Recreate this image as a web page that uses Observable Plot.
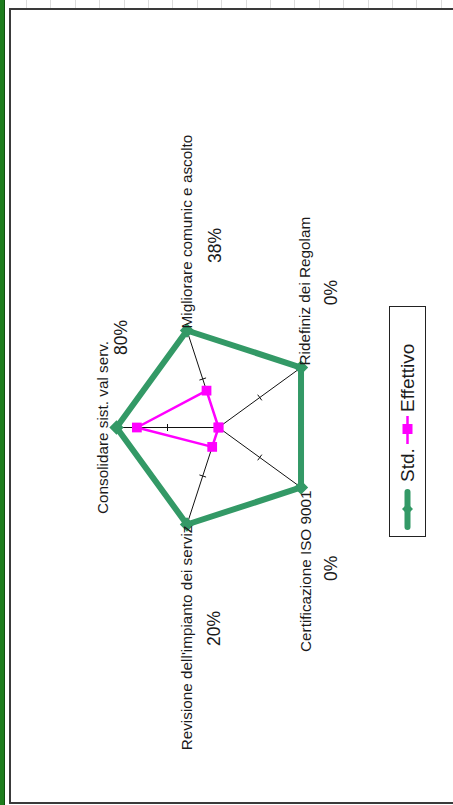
<!DOCTYPE html>
<html>
<head>
<meta charset="utf-8">
<script src="https://cdn.jsdelivr.net/npm/d3@7"></script>
<script src="https://cdn.jsdelivr.net/npm/@observablehq/plot@0.6"></script>
<style>
  html, body { margin: 0; padding: 0; background: #fff; }
  body { width: 453px; height: 805px; position: relative; overflow: hidden; font-family: "Liberation Sans", Arial, sans-serif; }
  #strip { position: absolute; left: 0; top: 0; width: 5px; height: 805px; background: #1d7d1d; border-right: 1px solid #0f4f0f; box-sizing: border-box; }
  #sheetgrid { position: absolute; left: 6px; top: 0; width: 447px; height: 8px;
    background: repeating-linear-gradient(to right, transparent 0 20px, #dcdcdc 20px 21px, transparent 21px 24.4px); }
  #frame { position: absolute; left: 9px; top: 8px; width: 460px; height: 796px; border-left: 2px solid #3a3a3a; border-top: 2px solid #3a3a3a; border-bottom: 2px solid #3a3a3a; box-sizing: border-box; }
  #chart { position: absolute; left: 0; top: 0; }
  #legend { position: absolute; left: 292px; top: 403px; width: 231px; height: 37px; transform: rotate(-90deg); border: 1px solid #222; box-sizing: border-box; background: #fff; }
</style>
</head>
<body>
<div id="strip"></div>
<div id="sheetgrid"></div>
<div id="frame"></div>
<div id="chart"></div>
<div id="legend"></div>
<script>
// ---- data ----
const categories = [
  "Consolidare sist. val serv.",
  "Migliorare comunic e ascolto",
  "Ridefiniz dei Regolam",
  "Certificazione ISO 9001",
  "Revisione dell'impianto dei serviz"
];
const stdValues = [100, 100, 100, 100, 100];
const effValues = [80, 38, 0, 0, 20];
const axisMax = 100;
const axisTicks = [50];
const seriesNames = ["Std.", "Effettivo"];

// ---- layout (pixels) ----
const W = 453, H = 805, CX = 218, CY = 427, R = 102;
const k = R / axisMax;
const GREEN = "#339966", MAGENTA = "#ff00ff";
const labelLayout = [
  {dx: -13, dy: 0, anchor: "middle", pdx: 5, pdy: -90},
  {dx: 0.5, dy: -2, anchor: "start", pdx: 28.5, pdy: -85},
  {dx: 4.5, dy: -2, anchor: "start", pdx: 30.5, pdy: -75},
  {dx: 5.5, dy: 3, anchor: "end", pdx: 30.5, pdy: 81},
  {dx: 0.5, dy: 1, anchor: "end", pdx: 27.5, pdy: 104}
];

const n = categories.length;
const pol = (r, i) => {
  const t = i * 2 * Math.PI / n;
  return {x: -r * Math.cos(t), y: r * Math.sin(t)};
};

const stdPts = categories.map((c, i) => ({cat: c, ...pol(stdValues[i], i)}));
const effPts = categories.map((c, i) => ({cat: c, ...pol(effValues[i], i)}));
const spokes = categories.map((c, i) => {
  const p = pol(axisMax, i);
  return {x1: 0, y1: 0, x2: p.x, y2: p.y};
});
const tickLen = 7 / k;
const ticks = [];
categories.forEach((c, i) => {
  const t = i * 2 * Math.PI / n;
  axisTicks.forEach(v => {
    const p = pol(v, i);
    const px = Math.sin(t), py = Math.cos(t);
    ticks.push({x1: p.x - px * tickLen / 2, y1: p.y - py * tickLen / 2, x2: p.x + px * tickLen / 2, y2: p.y + py * tickLen / 2});
  });
});
const labels = categories.map((c, i) => {
  const p = pol(axisMax, i);
  const L = labelLayout[i];
  return {
    text: c,
    anchor: L.anchor,
    x: p.x + L.dx / k, y: p.y - L.dy / k,
    px: p.x + L.pdx / k, py: p.y - L.pdy / k,
    pct: effValues[i] + "%"
  };
});

const font = '"Liberation Sans", Arial, sans-serif';
const textMarks = ["start", "middle", "end"].map(a =>
  Plot.text(labels.filter(d => d.anchor === a), {
    x: "x", y: "y", text: "text", rotate: -90, textAnchor: a, lineAnchor: "middle",
    fontSize: 15.3, fill: "#1a1a1a", fontFamily: font
  })
);

const chart = Plot.plot({
  width: W, height: H, margin: 0,
  x: {domain: [-CX / k, (W - CX) / k], axis: null},
  y: {domain: [-(H - CY) / k, CY / k], axis: null},
  style: {background: "transparent", fontFamily: font},
  marks: [
    Plot.link(spokes, {x1: "x1", y1: "y1", x2: "x2", y2: "y2", stroke: "#111", strokeWidth: 1}),
    Plot.link(ticks, {x1: "x1", y1: "y1", x2: "x2", y2: "y2", stroke: "#111", strokeWidth: 1}),
    Plot.line([...stdPts, stdPts[0]], {x: "x", y: "y", stroke: GREEN, strokeWidth: 6, strokeLinejoin: "round"}),
    Plot.dot(stdPts, {x: "x", y: "y", symbol: "diamond2", r: 5.5, fill: GREEN, stroke: GREEN}),
    Plot.line([...effPts, effPts[0]], {x: "x", y: "y", stroke: MAGENTA, strokeWidth: 2.5, strokeLinejoin: "round"}),
    Plot.dot(effPts, {x: "x", y: "y", symbol: "square", r: 5.5, fill: MAGENTA}),
    ...textMarks,
    Plot.text(labels, {x: "px", y: "py", text: "pct", rotate: -90, textAnchor: "middle", lineAnchor: "middle", fontSize: 17.5, fill: "#1a1a1a", fontFamily: font})
  ]
});
document.getElementById("chart").appendChild(chart);

// ---- legend (horizontal, rotated by CSS) ----
const lg = d3.select("#legend").append("svg").attr("width", 229).attr("height", 35)
  .style("display", "block");
const cyL = 17.5;
lg.append("line").attr("x1", 9).attr("x2", 44).attr("y1", cyL).attr("y2", cyL)
  .attr("stroke", GREEN).attr("stroke-width", 6).attr("stroke-linecap", "round");
lg.append("path").attr("d", d3.symbol(d3.symbolSquare, 60)()).attr("transform", `translate(27,${cyL}) rotate(45)`).attr("fill", GREEN);
lg.append("text").attr("x", 54).attr("y", cyL).attr("dy", "0.35em").text(seriesNames[0])
  .attr("font-size", 19).attr("font-family", font).attr("fill", "#1a1a1a");
lg.append("line").attr("x1", 92).attr("x2", 120).attr("y1", cyL).attr("y2", cyL)
  .attr("stroke", MAGENTA).attr("stroke-width", 2.5);
lg.append("rect").attr("x", 102).attr("y", cyL - 5).attr("width", 10).attr("height", 10).attr("fill", MAGENTA);
lg.append("text").attr("x", 124).attr("y", cyL).attr("dy", "0.35em").text(seriesNames[1])
  .attr("font-size", 19).attr("font-family", font).attr("fill", "#1a1a1a");
</script>
</body>
</html>
